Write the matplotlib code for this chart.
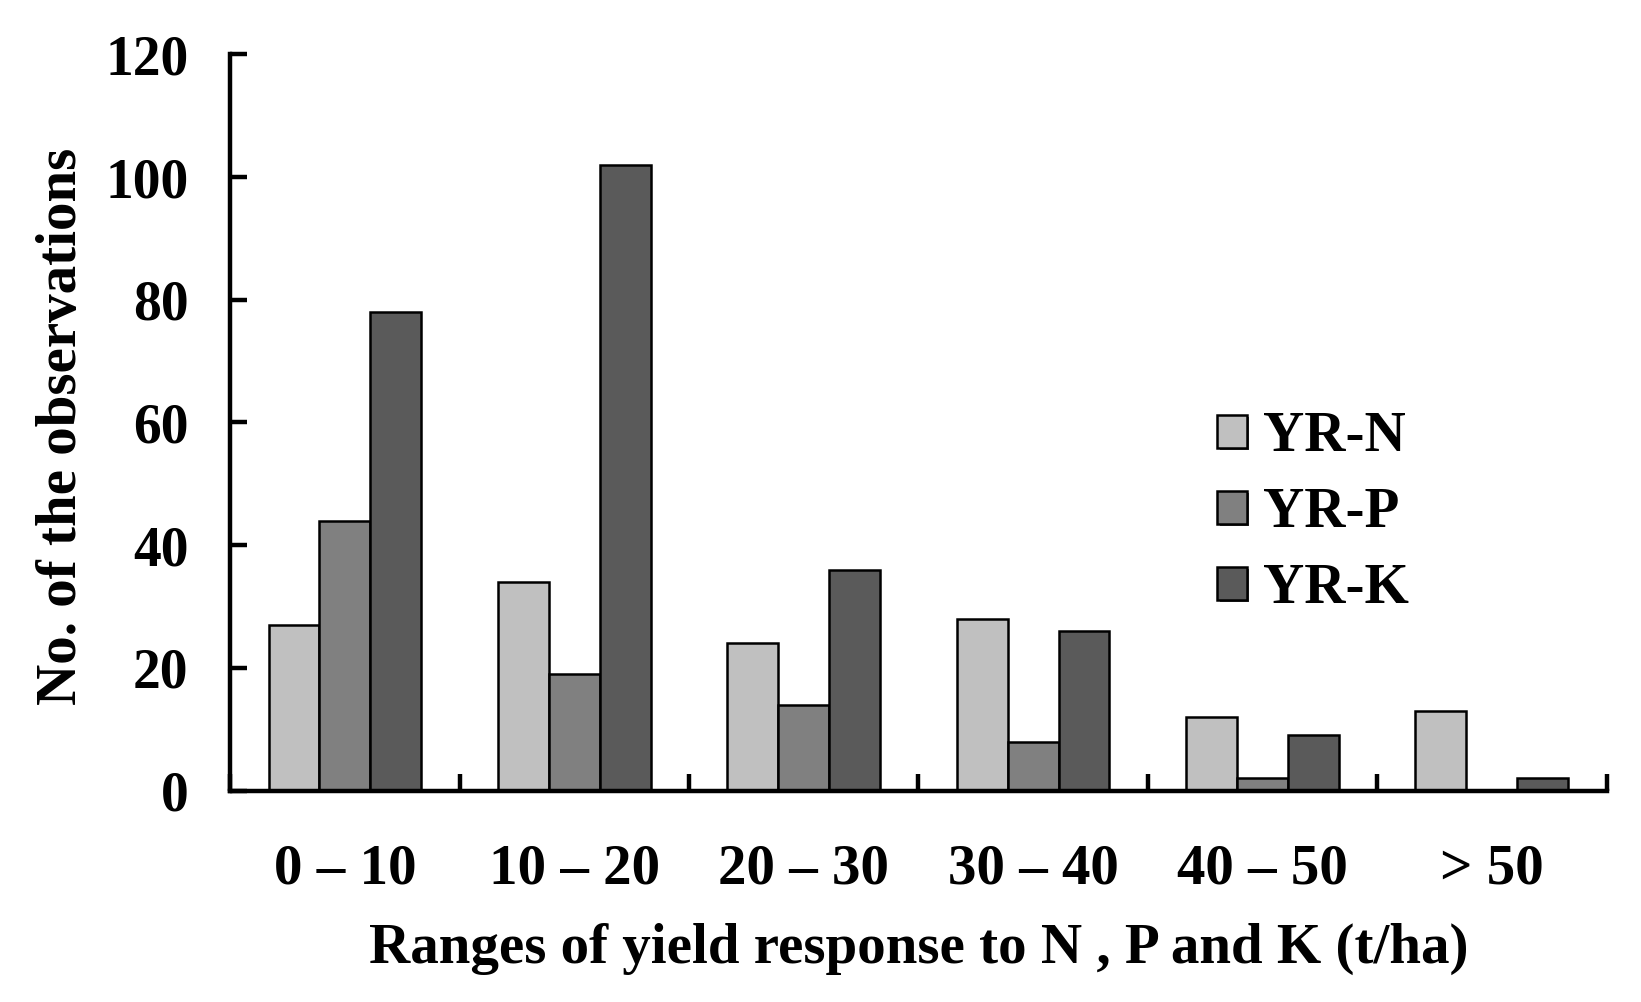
import numpy as np
import matplotlib
matplotlib.use("Agg")
import matplotlib.pyplot as plt
import matplotlib.patheffects as pe

plt.rcParams['font.family'] = ['Liberation Serif', 'DejaVu Serif']
plt.rcParams['font.weight'] = 'bold'

ranges = ["0 – 10", "10 – 20", "20 – 30", "30 – 40", "40 – 50", "> 50"]
yr_n = [27, 34, 24, 28, 12, 13]
yr_p = [44, 19, 14, 8, 2, 0]
yr_k = [78, 102, 36, 26, 9, 2]
series = ["YR-N", "YR-P", "YR-K"]
colors = ["#c0c0c0", "#808080", "#5a5a5a"]

fig = plt.figure(figsize=(16.41, 10.02), dpi=100)
ax = fig.add_axes([0.1403, 0.211, 0.8387, 0.7347])

x = np.arange(len(ranges))
w = 0.222
for k, (vals, name, c) in enumerate(zip([yr_n, yr_p, yr_k], series, colors)):
    ax.bar(x + (k - 1) * w, vals, width=w, color=c, edgecolor="black", linewidth=1.8, label=name)

ax.set_xlim(-0.5, len(ranges) - 0.5)
ax.set_ylim(0, 120)
ax.set_yticks(np.arange(0, 121, 20))
ax.set_xticks(x)
ax.set_xticklabels(ranges, fontsize=41, fontweight="bold")
ax.set_xticks(np.arange(-0.5, len(ranges)), minor=True)
ax.tick_params(axis="x", which="major", length=0, pad=38)
ax.tick_params(axis="x", which="minor", direction="in", length=12, width=3.2)
ax.tick_params(axis="y", direction="in", length=12, width=3.2, labelsize=40, pad=30)
for lab in ax.get_yticklabels():
    lab.set_fontweight("bold")

for s in ["top", "right"]:
    ax.spines[s].set_visible(False)
for s in ["left", "bottom"]:
    ax.spines[s].set_linewidth(3.2)

ax.set_xlabel("Ranges of yield response to N , P and K (t/ha)", fontsize=41, fontweight="bold")
ax.xaxis.set_label_coords(0.5, -0.179)
ax.set_ylabel("No. of the observations", fontsize=41, fontweight="bold")
ax.yaxis.set_label_coords(-0.103, 0.495)

leg = ax.legend(loc="upper left", bbox_to_anchor=(1189 / 1641, 1 - 383 / 1002),
                bbox_transform=fig.transFigure, frameon=False, fontsize=41,
                handlelength=0.52, handleheight=0.52, handletextpad=0.28,
                labelspacing=0.42, borderpad=0)
for h in leg.legend_handles:
    h.set_linewidth(1.8)
    h.set_path_effects([pe.SimplePatchShadow(offset=(1.5, -1.5), shadow_rgbFace="black", alpha=0.7), pe.Normal()])

fig.savefig("out.png", dpi=100)
